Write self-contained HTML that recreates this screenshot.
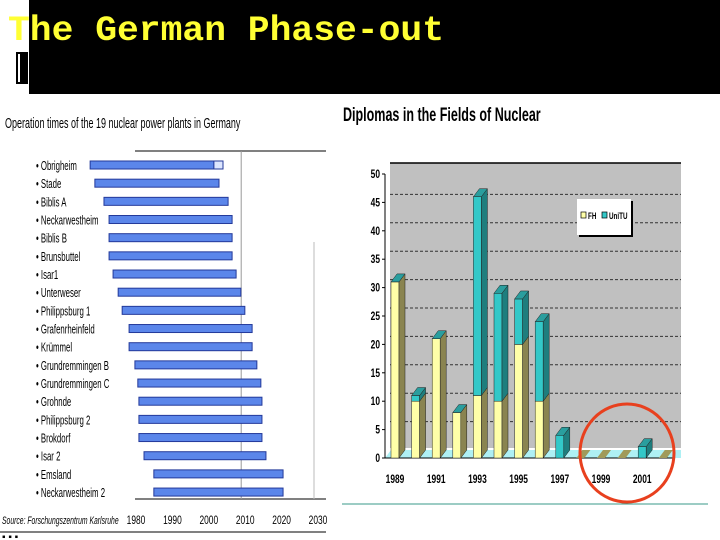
<!DOCTYPE html>
<html><head><meta charset="utf-8"><style>
html,body{margin:0;padding:0;background:#fff;width:720px;height:540px;overflow:hidden}
svg{display:block}
</style></head><body>
<svg id="s" width="720" height="540" xmlns="http://www.w3.org/2000/svg">
<rect x="0" y="0" width="720" height="94" fill="#000"/>
<rect x="0" y="0" width="29" height="94" fill="#fff"/>
<rect x="16" y="52" width="12" height="32" fill="#000"/>
<rect x="18" y="54" width="2" height="28" fill="#fff"/>
<text x="8" y="40" font-family="Liberation Mono, monospace" font-weight="bold" font-size="35" textLength="436" lengthAdjust="spacingAndGlyphs" fill="#ffff33">The German Phase-out</text>
<g id="left"></g>
<g id="right"></g>
</svg>
<script>
// ---- Left chart data ----
const plants = ["Obrigheim","Stade","Biblis A","Neckarwestheim","Biblis B","Brunsbuttel","Isar1","Unterweser","Philippsburg 1","Grafenrheinfeld","Krümmel","Grundremmingen B","Grundremmingen C","Grohnde","Philippsburg 2","Brokdorf","Isar 2","Emsland","Neckarwestheim  2"];
const startYears = [1968.5,1969.8,1972.3,1973.7,1973.7,1973.7,1974.8,1976.2,1977.3,1979.2,1979.2,1980.8,1981.6,1981.9,1981.9,1981.9,1983.3,1986,1986];
const endYears = [2002.5,2003.9,2006.4,2007.5,2007.5,2007.5,2008.6,2009.9,2011,2013,2013,2014.3,2015.4,2015.7,2015.7,2015.7,2016.8,2021.5,2021.5];
const extYears = [2005];
const yearTicks = ["1980","1990","2000","2010","2020","2030"];
// ---- Right chart data ----
const diplomaYears = ["1989","1990","1991","1992","1993","1994","1995","1996","1997","1998","1999","2000","2001","2002"];
const fhValues = [31,10,21,8,11,10,20,10,0,0,0,0,0,0];
const uniValues = [0,1,0,0,35,19,8,14,4,0,0,0,2,0];
const yTickLabels = ["0","5","10","15","20","25","30","35","40","45","50"];
const xTickLabels = ["1989","1991","1993","1995","1997","1999","2001"];

const NS="http://www.w3.org/2000/svg";
function mk(parent,tag,attrs,txt){const e=document.createElementNS(NS,tag);for(const k in attrs)e.setAttribute(k,attrs[k]);if(txt!==undefined)e.textContent=txt;parent.appendChild(e);return e;}
function ntext(parent,x,y,str,size,sx,anchor,bold,italic){
  const e=mk(parent,'text',{x:0,y:0,transform:`translate(${x},${y}) scale(${sx},1)`,'font-family':'"Liberation Sans",sans-serif','font-size':size,fill:'#000','text-anchor':anchor||'start'},str);
  if(bold)e.setAttribute('font-weight','bold');
  if(italic)e.setAttribute('font-style','italic');
  return e;
}

// ===== Left chart =====
const L=document.getElementById('left');
const xL=y=>132+(y-1980)*3.64;
const rowY=i=>165+i*18.17;
let t=ntext(L,5,128,'Operation times of the 19 nuclear power plants in Germany',15,0.6);


let ln=mk(L,'line',{x1:135,y1:151,x2:326,y2:151,stroke:'#000','stroke-width':1});

ln=mk(L,'line',{x1:135,y1:499,x2:326,y2:499,stroke:'#000','stroke-width':1});

ln=mk(L,'line',{x1:xL(2010),y1:151,x2:xL(2010),y2:499,stroke:'#999','stroke-width':1});

ln=mk(L,'line',{x1:xL(2030),y1:242,x2:xL(2030),y2:499,stroke:'#bbb','stroke-width':1});

ln=mk(L,'line',{x1:0,y1:532,x2:326,y2:532,stroke:'#000','stroke-width':1});

yearTicks.forEach((lab,i)=>{
  const e=ntext(L,xL(+lab)+4,524,lab,12,0.7,'middle');
  
  
});
t=ntext(L,2,524,'Source: Forschungszentrum Karlsruhe',11,0.62,'start',false,true);

plants.forEach((p,i)=>{
  const y=rowY(i);
  const lab=ntext(L,36,y+5,'\u2022 '+p,13,0.6);
  
  
  const b=mk(L,'rect',{x:xL(startYears[i]),y:y-4,width:xL(endYears[i])-xL(startYears[i]),height:8,fill:'#5b86ea',stroke:'#23399a','stroke-width':1});
  
  
  if(i===0){
    const h=mk(L,'rect',{x:xL(endYears[0]),y:y-4,width:xL(extYears[0])-xL(endYears[0]),height:8,fill:'#dde6ff',stroke:'#23399a','stroke-width':1});
    
    
  }
});
t=mk(L,'text',{x:2,y:540,'font-family':'"Liberation Sans",sans-serif','font-size':10,fill:'#000'},'▪ ▪ ▪');


// ===== Right chart =====
const R=document.getElementById('right');
const y0=458, ppu=5.68, dx=6, dy=8;
const yR=v=>y0-v*ppu;
const xR=i=>391+i*20.6;
t=ntext(R,343,121,'Diplomas in the Fields of Nuclear',19,0.66,'start',true);

let w=mk(R,'rect',{x:390,y:163,width:291,height:285,fill:'#c0c0c0'});

w=mk(R,'polygon',{points:`385,${y0} ${385+dx},${y0-dy} ${681},${y0-dy} ${681},${y0} `,fill:'#aef0f4'});

ln=mk(R,'line',{x1:390,y1:163,x2:681,y2:163,stroke:'#000','stroke-width':1.5});

for(let v=5;v<=45;v+=5){
  const g=mk(R,'line',{x1:390,y1:yR(v)-dy,x2:681,y2:yR(v)-dy,stroke:'#333','stroke-width':1,'stroke-dasharray':'3,2'});
  
  
}
ln=mk(R,'line',{x1:385,y1:yR(50),x2:385,y2:y0,stroke:'#000','stroke-width':1});

ln=mk(R,'line',{x1:385,y1:y0,x2:675,y2:y0,stroke:'#000','stroke-width':1});

yTickLabels.forEach(lab=>{
  const v=+lab;
  const e=ntext(R,380,yR(v)+4,lab,12,0.7,'end',true);
  
  
  const tk=mk(R,'line',{x1:382,y1:yR(v),x2:385,y2:yR(v),stroke:'#000'});
  
  
});
xTickLabels.forEach(lab=>{
  const i=diplomaYears.indexOf(lab);
  const e=ntext(R,xR(i)+4,483,lab,12,0.7,'middle',true);
  
  
});
function box(x,yb,yt,front,side,name){
  const bw=8;
  const f=mk(R,'rect',{x:x,y:yt,width:bw,height:yb-yt,fill:front,stroke:'#222','stroke-width':0.5});
  
  
  const s=mk(R,'polygon',{points:`${x+bw},${yb} ${x+bw+dx},${yb-dy} ${x+bw+dx},${yt-dy} ${x+bw},${yt}`,fill:side,stroke:'#222','stroke-width':0.5});
  
  
}
diplomaYears.forEach((yr,i)=>{
  const x=xR(i);
  const fh=fhValues[i], uni=uniValues[i], tot=fh+uni;
  if(tot===0){
    const p=mk(R,'polygon',{points:`${x},${y0} ${x+8},${y0} ${x+8+dx},${y0-dy} ${x+dx},${y0-dy}`,fill:'#a09a5a'});
    
    
    return;
  }
  if(fh>0) box(x,y0,yR(fh),'#ffffa8','#8a8450','bar-fh-'+yr);
  if(uni>0) box(x,yR(fh),yR(tot),'#33c8c8','#1e7e7e','bar-unitu-'+yr);
  const top=mk(R,'polygon',{points:`${x},${yR(tot)} ${x+8},${yR(tot)} ${x+8+dx},${yR(tot)-dy} ${x+dx},${yR(tot)-dy}`,fill:'#2a9e9e',stroke:'#222','stroke-width':0.5});
  
  
});
// legend
let lg=mk(R,'rect',{x:579,y:201,width:54,height:36,fill:'#000'});

lg=mk(R,'rect',{x:577,y:199,width:54,height:36,fill:'#fff'});

lg=mk(R,'rect',{x:581,y:212,width:5,height:6,fill:'#ffffa8',stroke:'#000','stroke-width':0.7});

lg=ntext(R,588,219,'FH',9,0.7,'start',true);

lg=mk(R,'rect',{x:602,y:212,width:5,height:6,fill:'#33c8c8',stroke:'#000','stroke-width':0.7});

lg=ntext(R,609,219,'UniTU',9,0.7,'start',true);

// red circle
let c=mk(R,'ellipse',{cx:627,cy:453,rx:47,ry:49,fill:'none',stroke:'#e8401e','stroke-width':3});

ln=mk(R,'line',{x1:342,y1:504,x2:708,y2:504,stroke:'#3a9a8a','stroke-width':1});

</script>
</body></html>
